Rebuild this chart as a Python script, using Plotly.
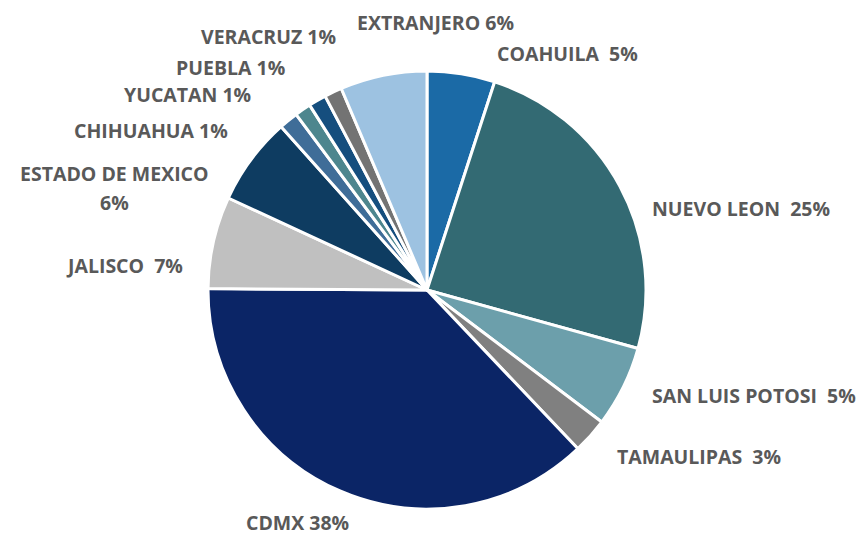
import plotly.graph_objects as go

states = ["COAHUILA", "NUEVO LEON", "SAN LUIS POTOSI", "TAMAULIPAS", "CDMX", "JALISCO",
          "ESTADO DE MEXICO", "CHIHUAHUA", "YUCATAN", "PUEBLA", "VERACRUZ", "EXTRANJERO"]
shares = [5.0, 24.3, 6.0, 2.6, 37.2, 6.8, 6.5, 1.4, 1.2, 1.3, 1.3, 6.4]
pct_labels = ["5%", "25%", "5%", "3%", "38%", "7%", "6%", "1%", "1%", "1%", "1%", "6%"]
colors = ["#1b6aa6", "#336a73", "#6c9fab", "#808080", "#0b2566", "#c0c0c0",
          "#0e3c61", "#3f6d98", "#4d868e", "#154e7e", "#737373", "#9dc2e1"]

# label placement: list of (pixel x, pixel y, anchor, text template) per state
label_pos = [
    [(495, 54, "left", "{s}  {p}")],
    [(650, 208, "left", "{s}  {p}")],
    [(650, 395, "left", "{s}  {p}")],
    [(615, 456, "left", "{s}  {p}")],
    [(297, 522, "center", "{s} {p}")],
    [(185, 265, "right", "{s}  {p}")],
    [(114, 173, "center", "{s}"), (114, 202, "center", "{p}")],
    [(230, 131, "right", "{s} {p}")],
    [(253, 95, "right", "{s} {p}")],
    [(287, 67, "right", "{s} {p}")],
    [(338, 37, "right", "{s} {p}")],
    [(355, 22, "left", "{s} {p}")],
]

W, H = 864, 538
cx, cy, r = 427, 290, 219

fig = go.Figure(go.Pie(
    labels=states, values=shares, sort=False, direction="clockwise", rotation=0,
    marker=dict(colors=colors, line=dict(color="white", width=3)),
    textinfo="none", hoverinfo="label+percent",
    domain=dict(x=[(cx - r) / W, (cx + r) / W], y=[1 - (cy + r) / H, 1 - (cy - r) / H]),
))

for name, p, places in zip(states, pct_labels, label_pos):
    for (px, py, anc, tpl) in places:
        fig.add_annotation(
            x=px / W, y=1 - py / H, xref="paper", yref="paper",
            text=tpl.format(s=name, p=p), showarrow=False, xanchor=anc, yanchor="middle",
            align="center", font=dict(family="Open Sans", size=19.5, color="#595959", weight="bold"),
        )

fig.update_layout(width=W, height=H, margin=dict(l=0, r=0, t=0, b=0),
                  showlegend=False, paper_bgcolor="white", plot_bgcolor="white")
fig.write_html("out.html", config={"displayModeBar": False},
               post_script="document.body.style.margin='0';")
